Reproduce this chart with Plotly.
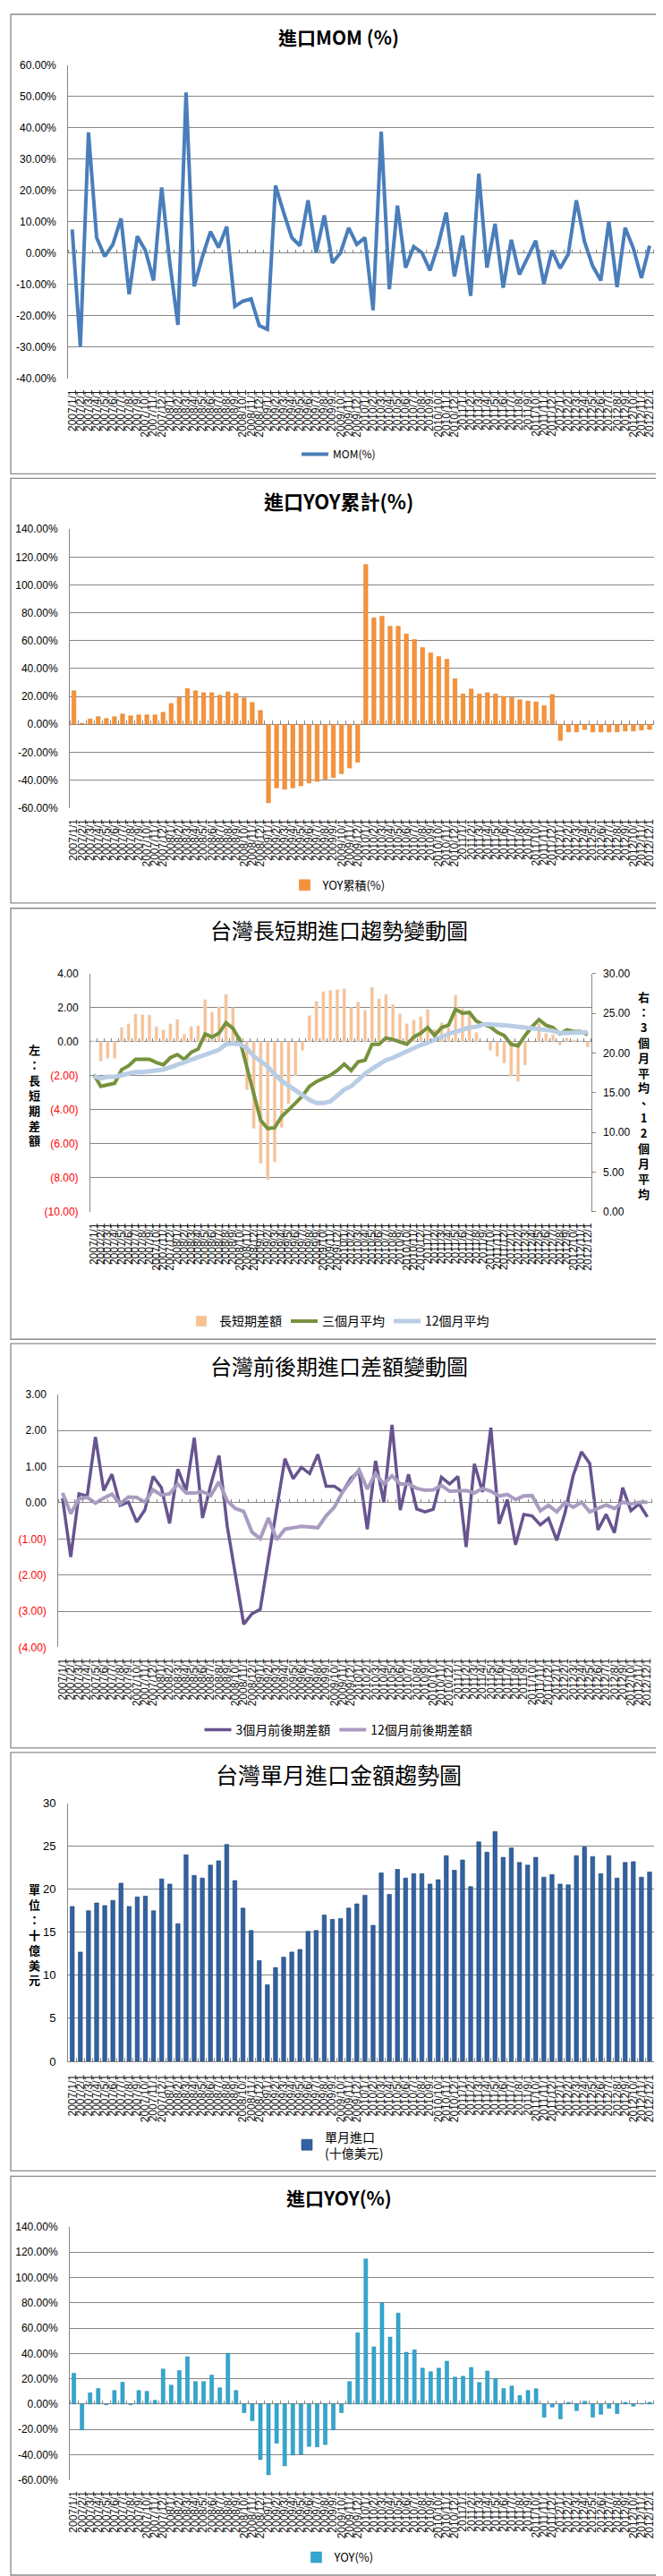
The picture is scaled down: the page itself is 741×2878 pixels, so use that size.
import plotly.graph_objects as go

W, H = 741, 2878
FONT = "Liberation Sans, Arial, sans-serif"
CJK = "Noto Sans CJK TC, Noto Sans CJK SC, sans-serif"
GRID = "#868686"

# ---------------- data ----------------
CATS = [f"{y}/{m}/1" for y in range(2007, 2013) for m in range(1, 13)]

MOM = [7.6, -29.8, 38.6, 5.0, -1.0, 2.8, 11.1, -13.1, 5.4, 0.9, -8.7, 21.0,
       -3.0, -22.9, 51.3, -10.6, -1.2, 6.9, 1.8, 8.5, -17.0, -15.3, -14.6, -23.1,
       -24.3, 21.6, 13.0, 5.0, 2.4, 16.9, 0.2, 12.1, -3.1, 0.2, 8.1, 2.8,
       5.0, -18.2, 38.8, -11.5, 15.2, -4.6, 2.1, 0.2, -5.5, 2.6, 13.0, -7.4,
       5.6, -13.6, 25.4, -4.6, 9.4, -11.0, 4.3, -6.8, -1.4, 4.0, -9.8, 0.9,
       -4.8, -0.3, 16.9, 3.7, -4.1, -8.7, 10.2, -10.8, 8.1, 1.6, -7.9, 2.4]

YOY_CUM = [24.0, 0.8, 3.8, 5.5, 4.2, 5.5, 7.4, 6.1, 6.8, 6.8, 6.8, 8.6,
           15.0, 19.3, 25.7, 24.0, 22.7, 22.7, 20.8, 23.3, 22.1, 18.9, 15.7, 9.9,
           -56.3, -45.6, -46.6, -45.6, -44.1, -42.0, -41.0, -39.3, -38.2, -35.4, -31.4, -27.1,
           114.7, 76.4, 77.6, 70.4, 70.4, 64.8, 60.8, 55.0, 51.2, 48.6, 46.7, 32.7,
           21.8, 25.3, 21.8, 22.7, 21.8, 20.1, 19.3, 17.6, 16.7, 16.1, 13.5, 21.4,
           -11.6, -5.4, -5.4, -3.7, -5.4, -5.4, -5.4, -5.4, -4.8, -4.8, -4.1, -3.7]

LS_DIFF = [0.05, -1.15, -0.98, -0.98, 0.84, 1.05, 1.63, 1.59, 1.57, 0.89, 0.70, 1.05,
           1.31, 0.45, 0.89, 0.94, 2.47, 1.73, 2.06, 2.78, 1.99, 0.30, -2.83, -5.10,
           -7.15, -8.11, -7.06, -5.05, -3.65, -1.99, -0.51, 1.54, 2.38, 2.95, 3.01, 3.06,
           3.11, 2.00, 2.33, 1.85, 3.20, 2.52, 2.78, 2.20, 1.64, 1.07, 1.28, 1.47,
           1.89, 0.72, 1.12, 0.80, 2.73, 1.94, 1.77, 0.54, 0.07, -0.51, -0.86, -1.26,
           -2.03, -2.34, -1.38, -0.03, 1.07, 0.49, 0.42, -0.21, 0.23, 0.10, 0.07, -0.33]

AVG3 = [17.3, 15.8, 16.0, 16.2, 17.9, 18.4, 19.2, 19.2, 19.2, 18.8, 18.5, 19.4,
        19.8, 19.2, 20.1, 20.5, 22.4, 22.0, 22.5, 23.8, 23.1, 21.6, 18.2, 14.5,
        11.5, 10.5, 10.6, 12.0, 12.8, 13.7, 14.6, 15.8, 16.4, 16.8, 17.2, 17.8,
        18.6, 17.8, 18.9, 19.1, 21.1, 21.1, 21.9, 21.7, 21.4, 21.1, 22.0, 22.5,
        23.2, 22.2, 23.2, 23.5, 25.5, 25.0, 25.1, 24.0, 23.6, 23.3, 22.6, 22.2,
        21.1, 20.9, 22.2, 23.3, 24.2, 23.5, 23.2, 22.4, 22.9, 22.7, 22.7, 22.3]

AVG12 = [17.1, 16.8, 17.0, 17.0, 17.2, 17.4, 17.6, 17.6, 17.7, 17.8, 17.9, 18.2,
         18.5, 18.8, 19.2, 19.5, 19.8, 20.1, 20.4, 21.1, 21.2, 21.1, 20.6, 19.6,
         19.0, 18.3, 17.3, 16.5, 15.9, 15.3, 14.7, 14.1, 13.7, 13.7, 13.9, 14.6,
         15.4, 15.8, 16.7, 17.4, 18.0, 18.6, 19.1, 19.4, 19.8, 20.3, 20.7, 21.0,
         21.3, 21.6, 22.0, 22.4, 22.7, 23.0, 23.2, 23.3, 23.6, 23.6, 23.6, 23.5,
         23.4, 23.3, 23.2, 23.2, 23.1, 22.9, 22.8, 22.5, 22.5, 22.5, 22.5, 22.6]

DIFF3 = [0.13, -1.50, 0.25, 0.19, 1.82, 0.34, 0.79, -0.07, 0.02, -0.53, -0.20, 0.73,
         0.42, -0.57, 0.93, 0.34, 1.80, -0.42, 0.50, 1.31, -0.65, -1.95, -3.36, -3.07,
         -2.95, -1.55, -0.17, 1.22, 0.67, 0.98, 0.81, 1.34, 0.46, 0.46, 0.30, 0.68,
         0.87, -0.73, 1.16, 0.02, 2.16, -0.20, 0.79, -0.17, -0.25, -0.18, 0.71, 0.52,
         0.73, -1.22, 1.08, 0.30, 2.08, -0.58, 0.09, -1.16, -0.32, -0.36, -0.61, -0.43,
         -1.04, -0.28, 0.76, 1.41, 1.09, -0.75, -0.32, -0.83, 0.42, -0.22, -0.03, -0.39]

DIFF12 = [0.27, -0.30, 0.11, 0.15, -0.01, 0.13, 0.24, -0.03, 0.16, 0.15, 0.02, 0.36,
          0.21, 0.25, 0.52, 0.27, 0.27, 0.31, 0.20, 0.58, 0.05, -0.16, -0.24, -0.81,
          -0.99, -0.42, -1.02, -0.73, -0.69, -0.65, -0.67, -0.69, -0.36, -0.12, 0.30, 0.60,
          0.91, 0.38, 0.81, 0.52, 0.75, 0.52, 0.52, 0.40, 0.35, 0.36, 0.48, 0.32,
          0.34, 0.34, 0.27, 0.40, 0.32, 0.19, 0.23, 0.09, 0.19, 0.20, -0.22, -0.07,
          -0.25, 0.01, -0.12, 0.02, -0.25, -0.16, -0.06, -0.16, 0.02, -0.03, 0.01, 0.02]

MONTHLY = [18.0, 12.7, 17.5, 18.4, 18.1, 18.7, 20.7, 18.0, 19.1, 19.2, 17.5, 21.2,
           20.6, 16.0, 24.0, 21.6, 21.3, 22.8, 23.3, 25.2, 21.0, 17.8, 15.2, 11.7,
           8.9, 10.9, 12.1, 12.7, 13.0, 15.1, 15.2, 17.0, 16.5, 16.6, 17.8, 18.3,
           19.3, 15.8, 21.9, 19.4, 22.3, 21.3, 21.8, 21.8, 20.6, 21.1, 23.9, 22.2,
           23.4, 20.3, 25.5, 24.3, 26.7, 23.7, 24.8, 23.1, 22.8, 23.7, 21.4, 21.7,
           20.6, 20.5, 23.9, 24.9, 23.8, 21.8, 23.9, 21.3, 23.1, 23.2, 21.4, 22.0]

YOY = [24.3, -20.5, 8.8, 12.3, -0.6, 10.7, 17.2, -0.6, 10.7, 10.0, 2.9, 27.6,
       14.9, 26.4, 37.4, 17.7, 17.7, 22.9, 12.8, 40.0, 10.7, -6.9, -13.3, -44.0,
       -56.0, -31.1, -48.9, -40.5, -39.8, -33.5, -33.9, -32.1, -20.5, -6.9, 17.7, 56.4,
       114.7, 45.2, 79.9, 52.9, 71.9, 40.9, 42.8, 28.3, 25.5, 28.3, 33.9, 21.2,
       21.9, 28.9, 17.0, 26.1, 20.0, 12.3, 14.2, 6.7, 10.7, 12.0, -10.4, -2.5,
       -11.8, 1.3, -5.3, 2.2, -10.4, -8.1, -3.4, -7.6, 1.3, -1.8, 0.2, 1.3]

PCT_TICKS_1 = list(range(-40, 61, 10))
PCT_TICKS_2 = list(range(-60, 141, 20))
LEFT3_TICKS = list(range(-10, 5, 2))
RIGHT3_TICKS = list(range(0, 31, 5))
P4_TICKS = list(range(-4, 4, 1))
P5_TICKS = list(range(0, 31, 5))


def fx(px):
    return px / W


def fy(py):
    return 1 - py / H


def pct_text(v):
    return f"{v:.2f}%"


def paren_text(v):
    if v < 0:
        return f'<span style="color:#FF0000">({abs(v):.2f})</span>'
    return f"{v:.2f}"


def xcat(dom, anchor, **kw):
    d = dict(domain=dom, anchor=anchor, type="category", range=[-0.5, 71.5],
             tickmode="linear", tick0=0, dtick=1, tickangle=-90,
             tickfont=dict(family=FONT, size=12, color="#111"),
             showgrid=False, zeroline=False, showline=False, ticks="",
             ticklabelstandoff=9, fixedrange=True)
    d.update(kw)
    return d


def yax(dom, anchor, rng, vals, texts, **kw):
    d = dict(domain=dom, anchor=anchor, range=rng, tickmode="array",
             tickvals=vals, ticktext=texts, showgrid=True, gridcolor=GRID,
             gridwidth=1, zeroline=False, showline=True, linecolor=GRID,
             linewidth=1, ticks="", ticklabelstandoff=10,
             tickfont=dict(family=FONT, size=12, color="#000"), fixedrange=True)
    d.update(kw)
    return d


def xzero(dom, over, ydom, yrng):
    frac0 = ydom[0] + (0 - yrng[0]) / (yrng[1] - yrng[0]) * (ydom[1] - ydom[0])
    return dict(domain=dom, overlaying=over, anchor="free", position=frac0,
                side="top", type="linear", range=[-0.5, 71.5], tickmode="array",
                tickvals=[i - 0.5 for i in range(73)], ticks="outside", ticklen=4,
                tickcolor=GRID, tickwidth=1, showticklabels=False,
                showgrid=False, zeroline=False, showline=False, fixedrange=True)


def legend_at(py, size=13):
    return dict(x=0.5, xanchor="center", y=fy(py), yanchor="middle",
                orientation="h", font=dict(family=CJK, size=size, color="#000"),
                bgcolor="rgba(0,0,0,0)", itemwidth=30, tracegroupgap=0)


def dummy(xa, ya):
    return go.Scatter(x=[0], y=[0], xaxis=xa, yaxis=ya, mode="markers",
                      marker=dict(opacity=0, size=1), showlegend=False,
                      hoverinfo="skip")


fig = go.Figure()
L = {}

# ---------- panel 1: MOM ----------
x1d = [fx(65.7), fx(725.4)]
y1d = [fy(410), fy(58.3)]
y1r = [-40, 60]
fig.add_trace(go.Scatter(x=CATS, y=MOM, mode="lines", name="MOM(%)",
                         line=dict(color="#4A7EBB", width=4),
                         xaxis="x", yaxis="y", legend="legend"))
fig.add_trace(dummy("x7", "y"))
L["xaxis"] = xcat(x1d, "y")
L["yaxis"] = yax(y1d, "x", y1r, PCT_TICKS_1, [pct_text(v) for v in PCT_TICKS_1])
L["xaxis7"] = xzero(x1d, "x", y1d, y1r)
L["legend"] = legend_at(495, 12)

# ---------- panel 2: YOY cumulative ----------
x2d = [fx(67.6), fx(725.4)]
y2d = [fy(892.3), fy(579.3)]
y2r = [-60, 140]
fig.add_trace(go.Bar(x=CATS, y=YOY_CUM, name="YOY累積(%)", width=0.5,
                     marker=dict(color="#F5933B", line=dict(color="#E07A20", width=0.5)),
                     xaxis="x2", yaxis="y2", legend="legend2"))
fig.add_trace(dummy("x8", "y2"))
L["xaxis2"] = xcat(x2d, "y2")
L["yaxis2"] = yax(y2d, "x2", y2r, PCT_TICKS_2, [pct_text(v) for v in PCT_TICKS_2])
L["xaxis8"] = xzero(x2d, "x2", y2d, y2r)
L["legend2"] = legend_at(979, 13)

# ---------- panel 3: long/short trend ----------
x3d = [fx(90.7), fx(655)]
y3d = [fy(1346), fy(1078.3)]
y3r = [-10, 4]
fig.add_trace(go.Bar(x=CATS, y=LS_DIFF, name="長短期差額", width=0.45,
                     marker=dict(color="#FBC08F"),
                     xaxis="x3", yaxis="y3", legend="legend3"))
fig.add_trace(go.Scatter(x=CATS, y=AVG3, mode="lines", name="三個月平均",
                         line=dict(color="#76923C", width=4),
                         xaxis="x3", yaxis="y9", legend="legend3"))
fig.add_trace(go.Scatter(x=CATS, y=AVG12, mode="lines", name="12個月平均",
                         line=dict(color="#B9CDE5", width=5),
                         xaxis="x3", yaxis="y9", legend="legend3"))
fig.add_trace(dummy("x10", "y3"))
L["xaxis3"] = xcat(x3d, "y3")
L["yaxis3"] = yax(y3d, "x3", y3r, LEFT3_TICKS, [paren_text(v) for v in LEFT3_TICKS])
L["yaxis9"] = dict(domain=y3d, anchor="x3", overlaying="y3", side="right",
                   range=[0, 30], tickmode="array", tickvals=RIGHT3_TICKS,
                   ticktext=[f"{v:.2f}" for v in RIGHT3_TICKS], showgrid=False,
                   zeroline=False, showline=True, linecolor=GRID, linewidth=1,
                   ticks="outside", ticklen=4, tickcolor=GRID, ticklabelstandoff=6,
                   tickfont=dict(family=FONT, size=12, color="#000"), fixedrange=True)
L["xaxis10"] = xzero(x3d, "x3", y3d, y3r)
L["legend3"] = legend_at(1469, 14)

# ---------- panel 4: before/after difference ----------
x4d = [fx(54.7), fx(723)]
y4d = [fy(1835), fy(1551)]
y4r = [-4, 3]
fig.add_trace(go.Scatter(x=CATS, y=DIFF3, mode="lines", name="3個月前後期差額",
                         line=dict(color="#67548F", width=3.5),
                         xaxis="x4", yaxis="y4", legend="legend4"))
fig.add_trace(go.Scatter(x=CATS, y=DIFF12, mode="lines", name="12個月前後期差額",
                         line=dict(color="#A99CC1", width=4),
                         xaxis="x4", yaxis="y4", legend="legend4"))
fig.add_trace(dummy("x11", "y4"))
L["xaxis4"] = xcat(x4d, "y4")
L["yaxis4"] = yax(y4d, "x4", y4r, P4_TICKS, [paren_text(v) for v in P4_TICKS])
L["xaxis11"] = xzero(x4d, "x4", y4d, y4r)
L["legend4"] = legend_at(1928, 14)

# ---------- panel 5: monthly imports ----------
x5d = [fx(65.7), fx(725.4)]
y5d = [fy(2300), fy(2010)]
fig.add_trace(go.Bar(x=CATS, y=MONTHLY, name="單月進口<br>(十億美元)", width=0.5,
                     marker=dict(color="#3162A3", line=dict(color="#1F416F", width=0.6)),
                     xaxis="x5", yaxis="y5", legend="legend5"))
L["xaxis5"] = xcat(x5d, "y5", ticks="inside", ticklen=4, tickcolor=GRID,
                   tickson="boundaries", showline=True, linecolor=GRID)
L["yaxis5"] = yax(y5d, "x5", [0, 30], P5_TICKS, [str(v) for v in P5_TICKS],
                  tickfont=dict(family=FONT, size=13, color="#000"))
L["legend5"] = legend_at(2394, 14)

# ---------- panel 6: YOY ----------
x6d = [fx(67.6), fx(725.4)]
y6d = [fy(2770), fy(2486)]
y6r = [-60, 140]
fig.add_trace(go.Bar(x=CATS, y=YOY, name="YOY(%)", width=0.45,
                     marker=dict(color="#33A7CF", line=dict(color="#1E86AB", width=0.5)),
                     xaxis="x6", yaxis="y6", legend="legend6"))
fig.add_trace(dummy("x12", "y6"))
L["xaxis6"] = xcat(x6d, "y6")
L["yaxis6"] = yax(y6d, "x6", y6r, PCT_TICKS_2, [pct_text(v) for v in PCT_TICKS_2])
L["xaxis12"] = xzero(x6d, "x6", y6d, y6r)
L["legend6"] = legend_at(2857, 13)

# ---------- panel frames, titles, axis titles ----------
frames = [(1, 517), (522, 999), (1005, 1489), (1494, 1948), (1953, 2423), (2429, 2877)]
shapes = [dict(type="rect", xref="paper", yref="paper", x0=fx(1), x1=fx(739.5),
               y0=fy(b), y1=fy(t), line=dict(color="#8A8A8A", width=1.3),
               fillcolor="rgba(0,0,0,0)", layer="below") for t, b in frames]

titles = [("<b>進口MOM (%)</b>", 26, 21),
          ("<b>進口YOY累計(%)</b>", 547, 22),
          ("台灣長短期進口趨勢變動圖", 1029, 24),
          ("台灣前後期進口差額變動圖", 1518, 24),
          ("台灣單月進口金額趨勢圖", 1977, 25),
          ("<b>進口YOY(%)</b>", 2453, 21)]
annotations = [dict(text=t, x=fx(370.5), y=fy(cy), xref="paper", yref="paper",
                    showarrow=False, xanchor="center", yanchor="middle",
                    font=dict(family=CJK, size=s, color="#000")) for t, cy, s in titles]


def vtext(chars, cx, cy):
    return dict(text="<b>" + "<br>".join(chars) + "</b>", x=fx(cx), y=fy(cy),
                xref="paper", yref="paper", showarrow=False, xanchor="center",
                yanchor="middle", align="center",
                font=dict(family=CJK, size=13, color="#000"))


annotations.append(vtext(list("左：長短期差額"), 27.4, 1214))
annotations.append(vtext(["右", "：", "3", "個", "月", "平", "均", "、", "1", "2",
                          "個", "月", "平", "均"], 714.6, 1215))
annotations.append(vtext(list("單位：十億美元"), 27.4, 2157))

fig.update_layout(width=W, height=H, margin=dict(l=0, r=0, t=0, b=0),
                  paper_bgcolor="white", plot_bgcolor="white", showlegend=True,
                  barmode="overlay", shapes=shapes, annotations=annotations,
                  hovermode=False, **L)

fig.write_html("out.html")
